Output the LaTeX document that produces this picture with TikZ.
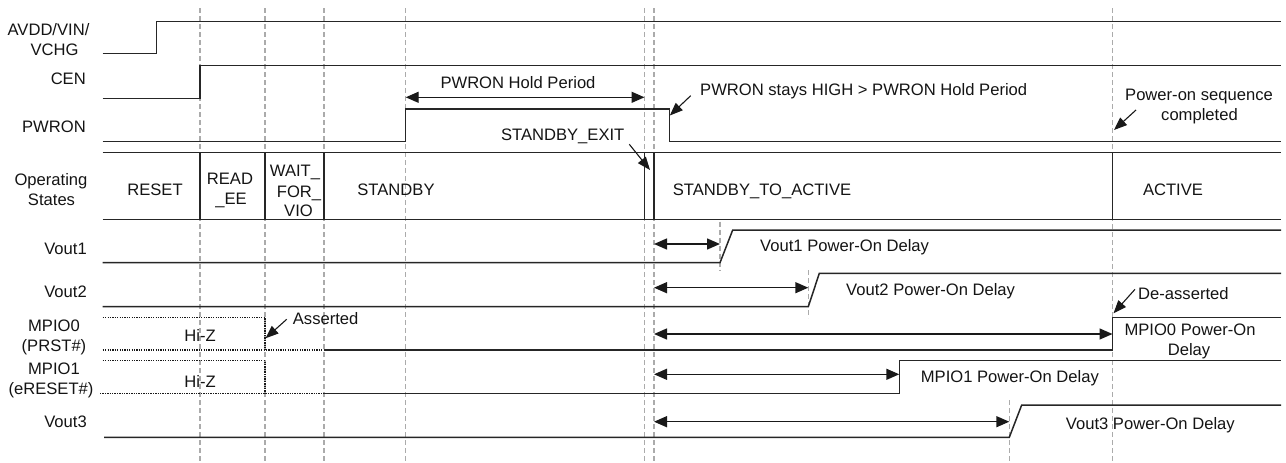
\documentclass[tikz,border=0pt]{standalone}
\usepackage{fontspec}
\setmainfont{Liberation Sans}
\usetikzlibrary{arrows.meta}
\begin{document}
\begin{tikzpicture}[x=1pt,y=-1pt,
  sig/.style={line width=1.5pt,draw=black!85,line join=miter},
  hiz/.style={line width=1.5pt,draw=black!90,dash pattern=on 1.3pt off 1.1pt},
  guide/.style={draw=black!33,line width=1.4pt,dash pattern=on 5pt off 3pt},
  dim/.style={line width=1.4pt,draw=black!90,{Triangle[length=13pt,width=11pt]}-{Triangle[length=13pt,width=11pt]}},
  ann/.style={line width=1.1pt,draw=black!90,-{Triangle[length=13pt,width=10pt]}},
  lbl/.style={inner sep=0pt,anchor=base,font=\fontsize{16.6}{20}\selectfont,text=black!92},
]
\useasboundingbox (0,0) rectangle (1286,463);

% guide lines
\foreach \gx in {200,265,324,405.7,644.5,654,1112.5}
  \draw[guide] (\gx,8) -- (\gx,463);
\draw[guide] (720,221.7) -- (720,270);
\draw[guide] (808.3,270) -- (808.3,318);
\draw[guide] (1009.3,400) -- (1009.3,463);

% signal waveforms
\draw[sig] (102.7,53.3) -- (156.7,53.3) -- (156.7,21.7) -- (1281,21.7);
\draw[sig] (102.7,98.3) -- (200,98.3) -- (200,65.7) -- (1281,65.7);
\draw[sig] (102.7,141.7) -- (405.7,141.7) -- (405.7,109) -- (669.3,109) -- (669.3,141.7) -- (1281,141.7);
% operating states box
\draw[sig] (102.7,152.7) -- (1281,152.7);
\draw[sig] (102.7,219.3) -- (1281,219.3);
\foreach \sx in {200,265,324,644.5,654,1112.5}
  \draw[sig] (\sx,152.7) -- (\sx,219.3);
\draw[sig] (102.7,262.7) -- (720,262.7) -- (732.7,230) -- (1281,230);
\draw[sig] (102.7,306.7) -- (808.3,306.7) -- (819.3,273.3) -- (1281,273.3);
\draw[hiz] (102.7,317.3) -- (265,317.3) -- (265,350);
\draw[hiz] (102.7,350) -- (324,350);
\draw[sig] (324,350) -- (1112.5,350) -- (1112.5,317.3) -- (1281,317.3);
\draw[hiz] (102.7,360.7) -- (265,360.7) -- (265,393.3);
\draw[hiz] (100,393.3) -- (324,393.3);
\draw[sig] (324,393.3) -- (899.3,393.3) -- (899.3,360.7) -- (1281,360.7);
\draw[sig] (104,437.3) -- (1009.3,437.3) -- (1021.7,405) -- (1281,405);

% row labels
\node[lbl] (avdda) at (48.5,35) {AVDD/VIN/};
\node[lbl] (avddb) at (54.5,55) {VCHG};
\node[lbl,anchor=base east] (cen) at (86,84.5) {CEN};
\node[lbl,anchor=base east] (pwron) at (86,132) {PWRON};
\node[lbl] (opa) at (51,185.5) {Operating};
\node[lbl] (opb) at (51.5,205.5) {States};
\node[lbl,anchor=base east] (vouta) at (87,254) {Vout1};
\node[lbl,anchor=base east] (voutb) at (87,297) {Vout2};
\node[lbl] (mpioa) at (54,331.5) {MPIO0};
\node[lbl] (mpiob) at (54,351.5) {(PRST\#)};
\node[lbl] (mpioc) at (54,374) {MPIO1};
\node[lbl] (mpiod) at (51,394) {(eRESET\#)};
\node[lbl,anchor=base east] (voutc) at (87,427.5) {Vout3};

% state names
\node[lbl] (sreset) at (155,195.5) {RESET};
\node[lbl] (sreada) at (230,184) {READ};
\node[lbl] (sreadb) at (231,204.5) {\_EE};
\node[lbl] (swaita) at (295,176.5) {WAIT\_};
\node[lbl] (swaitb) at (299,197) {FOR\_};
\node[lbl] (swaitc) at (298.5,216.5) {VIO};
\node[lbl] (sstandby) at (396,195.5) {STANDBY};
\node[lbl,anchor=base west] (stoact) at (672.7,195) {STANDBY\_TO\_ACTIVE};
\node[lbl] (sactive) at (1173,195) {ACTIVE};

% annotations
\node[lbl] (hold) at (518,88) {PWRON Hold Period};
\node[lbl,anchor=base west] (stays) at (700,95) {PWRON stays HIGH > PWRON Hold Period};
\node[lbl] (sbexit) at (562.7,140.5) {STANDBY\_EXIT};
\node[lbl] (pseqa) at (1199,100) {Power-on sequence};
\node[lbl] (pseqb) at (1199.5,120.5) {completed};
\node[lbl] (hiza) at (200,341) {Hi-Z};
\node[lbl] (hizb) at (200,387.5) {Hi-Z};
\node[lbl,anchor=base west] (asserted) at (292.7,324) {Asserted};
\node[lbl,anchor=base west] (deasserted) at (1138,299) {De-asserted};
\node[lbl] (mzdla) at (1190,335) {MPIO0 Power-On};
\node[lbl] (mzdlb) at (1189,355) {Delay};
\node[lbl,anchor=base west] (modl) at (920.7,382) {MPIO1 Power-On Delay};
\node[lbl,anchor=base west] (vadl) at (760,251.5) {Vout1 Power-On Delay};
\node[lbl,anchor=base west] (vbdl) at (846,295) {Vout2 Power-On Delay};
\node[lbl,anchor=base west] (vcdl) at (1065.7,429) {Vout3 Power-On Delay};

% arrow end points
\coordinate (holdL) at (405.7,97.3);
\coordinate (holdR) at (644.5,97.3);
\coordinate (d1L) at (654,244);
\coordinate (d1R) at (720,244);
\coordinate (d2L) at (654,287.7);
\coordinate (d2R) at (808.3,287.7);
\coordinate (d3L) at (654,334);
\coordinate (d3R) at (1112.5,334);
\coordinate (d4L) at (654,374.3);
\coordinate (d4R) at (899.3,374.3);
\coordinate (d5L) at (654,421.7);
\coordinate (d5R) at (1009.3,421.7);
\coordinate (staysS) at (690.7,95.7);
\coordinate (staysE) at (669.8,115.5);
\coordinate (exitS) at (629.3,144.3);
\coordinate (exitE) at (650,170);
\coordinate (pseqS) at (1136,110);
\coordinate (pseqE) at (1114,130);
\coordinate (assS) at (286.7,319.3);
\coordinate (assE) at (265.5,338.3);
\coordinate (deaS) at (1135,289.3);
\coordinate (deaE) at (1113.5,313.3);

\draw[dim] (holdL) -- (holdR);
\draw[dim] (d1L) -- (d1R);
\draw[dim] (d2L) -- (d2R);
\draw[dim] (d3L) -- (d3R);
\draw[dim] (d4L) -- (d4R);
\draw[dim] (d5L) -- (d5R);
\draw[ann] (staysS) -- (staysE);
\draw[ann] (exitS) -- (exitE);
\draw[ann] (pseqS) -- (pseqE);
\draw[ann] (assS) -- (assE);
\draw[ann] (deaS) -- (deaE);
\end{tikzpicture}
\end{document}
